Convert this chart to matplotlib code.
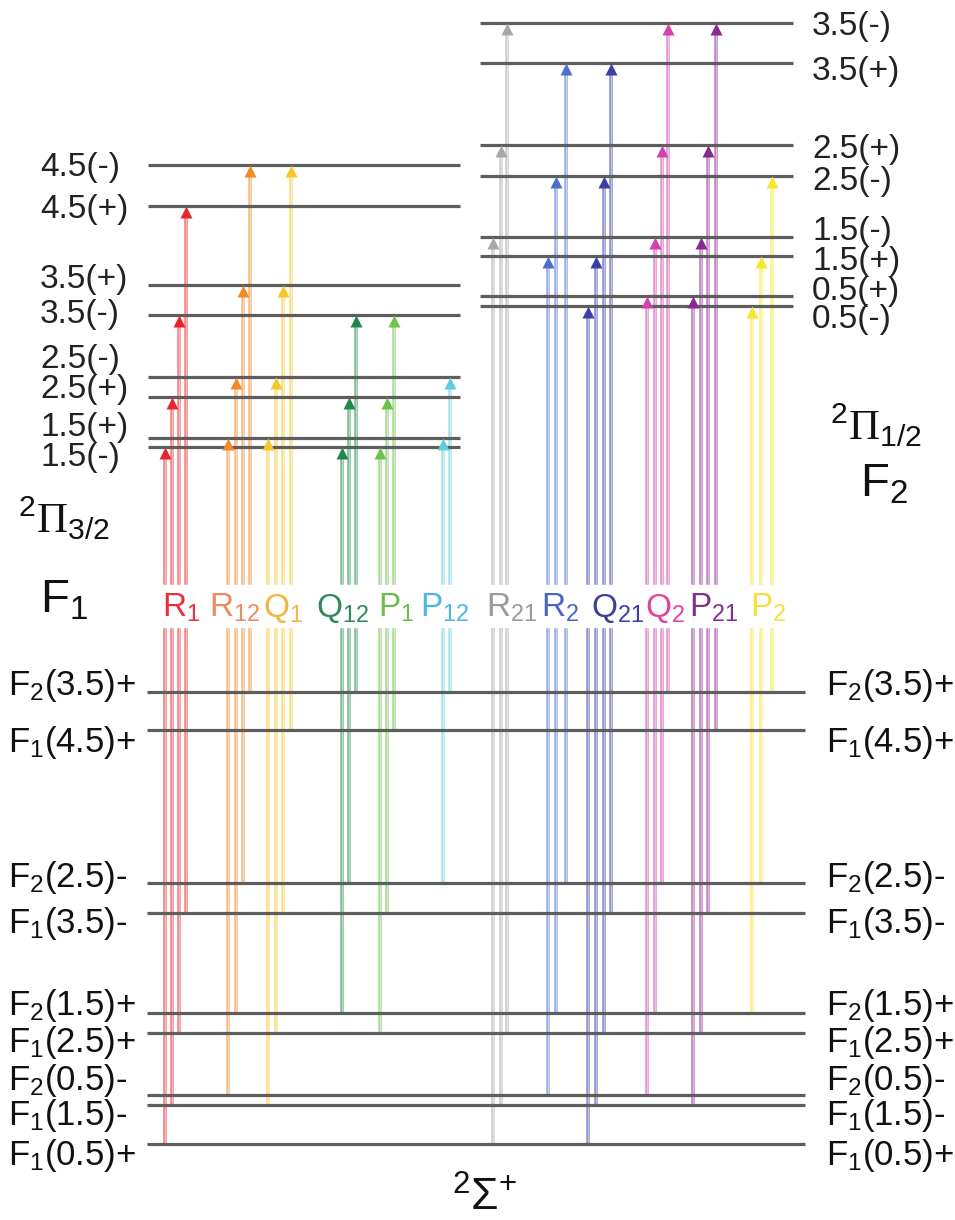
import matplotlib
matplotlib.use("Agg")
import matplotlib.pyplot as plt
from matplotlib.patches import Rectangle

plt.rcParams['font.family'] = ['Liberation Sans', 'DejaVu Sans']
plt.rcParams['mathtext.fontset'] = 'custom'
plt.rcParams['mathtext.rm'] = 'Liberation Serif'
plt.rcParams['mathtext.default'] = 'regular'

# niveis (posicao vertical em px da figura original)
upper_f1 = {'4.5(-)': 165, '4.5(+)': 206, '3.5(+)': 285, '3.5(-)': 315,
            '2.5(-)': 377, '2.5(+)': 397, '1.5(+)': 438, '1.5(-)': 447}
upper_f2 = {'3.5(-)': 23, '3.5(+)': 63, '2.5(+)': 145, '2.5(-)': 176,
            '1.5(-)': 237, '1.5(+)': 256, '0.5(+)': 296, '0.5(-)': 306}
lower = {'F2(3.5)+': 692, 'F1(4.5)+': 730, 'F2(2.5)-': 883, 'F1(3.5)-': 913,
         'F2(1.5)+': 1013, 'F1(2.5)+': 1033, 'F2(0.5)-': 1095, 'F1(1.5)-': 1105,
         'F1(0.5)+': 1144}

upper_f1_label_y = [176, 218, 288, 323, 368, 398, 436, 466]
upper_f2_label_y = [35, 80, 158, 190, 240, 270, 300, 328]
lower_label_y = [695, 752, 887, 933, 1015, 1052, 1090, 1125, 1165]
lower_tex = ['F$_2$(3.5)+', 'F$_1$(4.5)+', 'F$_2$(2.5)-', 'F$_1$(3.5)-',
             'F$_2$(1.5)+', 'F$_1$(2.5)+', 'F$_2$(0.5)-', 'F$_1$(1.5)-',
             'F$_1$(0.5)+']

# ramos: nome, cor da seta, cor do texto, nivel inferior, nivel superior
branches = ['R$_1$', 'R$_{12}$', 'Q$_1$', 'Q$_{12}$', 'P$_1$', 'P$_{12}$',
            'R$_{21}$', 'R$_2$', 'Q$_{21}$', 'Q$_2$', 'P$_{21}$', 'P$_2$']
arrow_colors = ['#e8252d', '#f28a2a', '#f7c62e', '#1f8a45', '#6cc24a', '#5fcfdc',
                '#a8a8a8', '#4d6fcc', '#3d3da6', '#d042ae', '#8a2a8e', '#f7e62a']
text_colors = ['#e8303a', '#ee8a5e', '#f4b444', '#2e8a5a', '#6cbf4e', '#4cb6e6',
               '#9a9a9a', '#4a66c0', '#3e3e9c', '#e2449c', '#7c3090', '#f8e040']
branch_lower = [
    ['F1(0.5)+', 'F1(1.5)-', 'F1(2.5)+', 'F1(3.5)-'],
    ['F2(0.5)-', 'F2(1.5)+', 'F2(2.5)-', 'F2(3.5)+'],
    ['F1(1.5)-', 'F1(2.5)+', 'F1(3.5)-', 'F1(4.5)+'],
    ['F2(1.5)+', 'F2(2.5)-', 'F2(3.5)+'],
    ['F1(2.5)+', 'F1(3.5)-', 'F1(4.5)+'],
    ['F2(2.5)-', 'F2(3.5)+'],
    ['F1(0.5)+', 'F1(1.5)-', 'F1(2.5)+'],
    ['F2(0.5)-', 'F2(1.5)+', 'F2(2.5)-'],
    ['F1(0.5)+', 'F1(1.5)-', 'F1(2.5)+', 'F1(3.5)-'],
    ['F2(0.5)-', 'F2(1.5)+', 'F2(2.5)-', 'F2(3.5)+'],
    ['F1(1.5)-', 'F1(2.5)+', 'F1(3.5)-', 'F1(4.5)+'],
    ['F2(1.5)+', 'F2(2.5)-', 'F2(3.5)+'],
]
branch_upper = [
    ['1.5(-)', '2.5(+)', '3.5(-)', '4.5(+)'],
    ['1.5(+)', '2.5(-)', '3.5(+)', '4.5(-)'],
    ['1.5(+)', '2.5(-)', '3.5(+)', '4.5(-)'],
    ['1.5(-)', '2.5(+)', '3.5(-)'],
    ['1.5(-)', '2.5(+)', '3.5(-)'],
    ['1.5(+)', '2.5(-)'],
    ['1.5(-)', '2.5(+)', '3.5(-)'],
    ['1.5(+)', '2.5(-)', '3.5(+)'],
    ['0.5(-)', '1.5(+)', '2.5(-)', '3.5(+)'],
    ['0.5(+)', '1.5(-)', '2.5(+)', '3.5(-)'],
    ['0.5(+)', '1.5(-)', '2.5(+)', '3.5(-)'],
    ['0.5(-)', '1.5(+)', '2.5(-)'],
]
# posicoes horizontais das setas
branch_x = [
    [165, 172, 179, 186],
    [228, 236, 243, 250],
    [268, 276, 283, 291],
    [342, 349, 356],
    [380, 387, 394],
    [443, 450],
    [493, 501, 507],
    [548, 556, 566],
    [588, 596, 604, 611],
    [647, 655, 662, 668],
    [693, 701, 708, 716],
    [752, 761, 772],
]
label_x = [162, 209, 263, 316, 378, 420, 486, 541, 591, 645, 689, 750]

fig = plt.figure(figsize=(9.55, 12.2), dpi=100)
ax = fig.add_axes([0, 0, 1, 1])
ax.set_xlim(0, 955)
ax.set_ylim(1220, 0)
ax.axis('off')

lvl = dict(color='#5e5e5e', lw=2.3, zorder=2.5, solid_capstyle='butt')
for y in upper_f1.values():
    ax.plot([148, 460], [y, y], **lvl)
for y in upper_f2.values():
    ax.plot([480, 793], [y, y], **lvl)
for y in lower.values():
    ax.plot([147, 805], [y, y], **lvl)

for i in range(len(branches)):
    for x, lo, up in zip(branch_x[i], branch_lower[i], branch_upper[i]):
        ytop = upper_f1[up] if i < 6 else upper_f2[up]
        ybot = lower[lo]
        ax.plot([x, x], [ybot, ytop + 8], color=arrow_colors[i], lw=2.6,
                alpha=0.55, zorder=2)
        ax.plot([x, x], [ybot, ytop + 8], color='white', lw=0.6,
                alpha=0.5, zorder=2.1)
        ax.plot(x, ytop + 6, marker='^', ms=8.5, color=arrow_colors[i],
                mec='none', zorder=3)

ax.add_patch(Rectangle((150, 585), 650, 42, color='white', zorder=3.5))

for i, name in enumerate(branches):
    ax.text(label_x[i], 617, name, color=text_colors[i], fontsize=24,
            va='baseline', ha='left', zorder=4)

for name, y in zip(upper_f1.keys(), upper_f1_label_y):
    ax.text(40, y, name, fontsize=24, color='#222222', va='baseline')
for name, y in zip(upper_f2.keys(), upper_f2_label_y):
    ax.text(812, y, name, fontsize=24, color='#222222', va='baseline')
for name, y in zip(lower_tex, lower_label_y):
    ax.text(8, y, name, fontsize=25, color='#111111', va='baseline')
    ax.text(826, y, name, fontsize=25, color='#111111', va='baseline')

ax.text(18, 533, r'$^{2}\mathrm{\Pi}_{3/2}$', fontsize=31, color='#111111',
        va='baseline')
ax.text(40, 612, r'F$_1$', fontsize=34, color='#111111', va='baseline')
ax.text(830, 440, r'$^{2}\mathrm{\Pi}_{1/2}$', fontsize=31, color='#111111',
        va='baseline')
ax.text(860, 497, r'F$_2$', fontsize=34, color='#111111', va='baseline')
ax.text(485, 1198, r'$^{2}\Sigma^{+}$', fontsize=32, color='#111111',
        ha='center', va='center')

fig.savefig('out.png', dpi=100, facecolor='white')
